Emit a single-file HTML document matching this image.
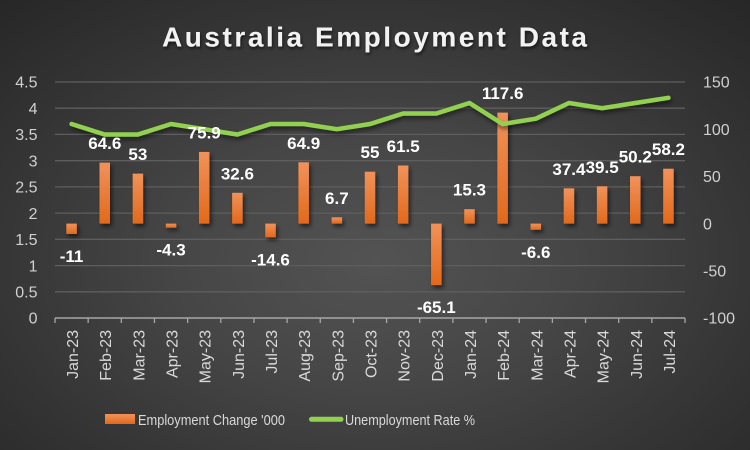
<!DOCTYPE html>
<html>
<head>
<meta charset="utf-8">
<style>
  html, body { margin: 0; padding: 0; }
  body { width: 750px; height: 450px; overflow: hidden;
    background: radial-gradient(ellipse 75% 80% at 50% 58%, #535353 0%, #464646 35%, #343434 70%, #262626 100%); }
  svg { display: block; }
  text { font-family: "Liberation Sans", Arial, sans-serif; }
</style>
</head>
<body>
<svg width="750" height="450" viewBox="0 0 750 450" xmlns="http://www.w3.org/2000/svg">
  <defs>
    <linearGradient id="og" x1="0" y1="0" x2="0" y2="1">
      <stop offset="0" stop-color="#f1925a"/>
      <stop offset="1" stop-color="#e2691b"/>
    </linearGradient>
    <filter id="sh" x="-50%" y="-20%" width="200%" height="150%">
      <feDropShadow dx="2" dy="3" stdDeviation="2" flood-color="#000" flood-opacity="0.55"/>
    </filter>
    <filter id="lsh" x="-5%" y="-20%" width="110%" height="150%">
      <feDropShadow dx="1" dy="3" stdDeviation="2" flood-color="#000" flood-opacity="0.5"/>
    </filter>
    <filter id="tsh" x="-5%" y="-30%" width="110%" height="160%">
      <feDropShadow dx="1" dy="2" stdDeviation="1.5" flood-color="#000" flood-opacity="0.6"/>
    </filter>
  </defs>

  <!-- Title -->
  <text x="374.5" y="46.5" text-anchor="middle" font-size="28" font-weight="bold" fill="#f2f2f2" textLength="425" lengthAdjust="spacing" filter="url(#tsh)">Australia Employment Data</text>

  <!-- Gridlines -->
  <g stroke="#5e5e5e" stroke-width="1.3">
    <line x1="55" y1="82" x2="685" y2="82"/>
    <line x1="55" y1="108.2" x2="685" y2="108.2"/>
    <line x1="55" y1="134.4" x2="685" y2="134.4"/>
    <line x1="55" y1="160.7" x2="685" y2="160.7"/>
    <line x1="55" y1="186.9" x2="685" y2="186.9"/>
    <line x1="55" y1="213.1" x2="685" y2="213.1"/>
    <line x1="55" y1="239.3" x2="685" y2="239.3"/>
    <line x1="55" y1="265.6" x2="685" y2="265.6"/>
    <line x1="55" y1="291.8" x2="685" y2="291.8"/>
  </g>

  <!-- Left axis labels -->
  <g font-size="16" fill="#d0d0d0" text-anchor="end">
    <text x="37.5" y="87.7">4.5</text>
    <text x="37.5" y="113.9">4</text>
    <text x="37.5" y="140.1">3.5</text>
    <text x="37.5" y="166.4">3</text>
    <text x="37.5" y="192.6">2.5</text>
    <text x="37.5" y="218.8">2</text>
    <text x="37.5" y="245">1.5</text>
    <text x="37.5" y="271.3">1</text>
    <text x="37.5" y="297.5">0.5</text>
    <text x="37.5" y="323.7">0</text>
  </g>

  <!-- Right axis labels -->
  <g font-size="16" fill="#d0d0d0" text-anchor="start">
    <text x="703" y="87.7">150</text>
    <text x="703" y="134.9">100</text>
    <text x="703" y="182.1">50</text>
    <text x="703" y="229.3">0</text>
    <text x="703" y="276.5">-50</text>
    <text x="703" y="323.7">-100</text>
  </g>

  <!-- Bars -->
  <g fill="url(#og)" filter="url(#sh)">
    <rect x="66.33" y="223.6" width="10.5" height="10.4"/>
    <rect x="99.49" y="162.6" width="10.5" height="61.0"/>
    <rect x="132.64" y="173.6" width="10.5" height="50.0"/>
    <rect x="165.8" y="223.6" width="10.5" height="4.1"/>
    <rect x="198.96" y="151.95" width="10.5" height="71.65"/>
    <rect x="232.12" y="192.8" width="10.5" height="30.8"/>
    <rect x="265.28" y="223.6" width="10.5" height="13.8"/>
    <rect x="298.43" y="162.3" width="10.5" height="61.3"/>
    <rect x="331.59" y="217.3" width="10.5" height="6.3"/>
    <rect x="364.75" y="171.7" width="10.5" height="51.9"/>
    <rect x="397.91" y="165.5" width="10.5" height="58.1"/>
    <rect x="431.07" y="223.6" width="10.5" height="61.45"/>
    <rect x="464.22" y="209.2" width="10.5" height="14.4"/>
    <rect x="497.38" y="112.6" width="10.5" height="111.0"/>
    <rect x="530.54" y="223.6" width="10.5" height="6.2"/>
    <rect x="563.7" y="188.3" width="10.5" height="35.3"/>
    <rect x="596.86" y="186.3" width="10.5" height="37.3"/>
    <rect x="630.01" y="176.2" width="10.5" height="47.4"/>
    <rect x="663.17" y="168.7" width="10.5" height="54.9"/>
  </g>

  <!-- Unemployment line -->
  <polyline filter="url(#lsh)" fill="none" stroke="#92d050" stroke-width="4.5" stroke-linejoin="round" stroke-linecap="round"
    points="71.58,124.0 104.74,134.5 137.89,134.5 171.05,124.0 204.21,129.2 237.37,134.5 270.53,124.0 303.68,124.0 336.84,129.2 370.0,124.0 403.16,113.5 436.32,113.5 469.47,103.0 502.63,124.0 535.79,118.7 568.95,103.0 602.11,108.2 635.26,103.0 668.42,97.8"/>

  <!-- Data labels -->
  <g font-size="17" font-weight="bold" fill="#ffffff" text-anchor="middle">
    <text x="71.58" y="262">-11</text>
    <text x="104.74" y="149.1">64.6</text>
    <text x="137.89" y="160.1">53</text>
    <text x="171.05" y="255.7">-4.3</text>
    <text x="204.21" y="138.45">75.9</text>
    <text x="237.37" y="179.3">32.6</text>
    <text x="270.53" y="265.4">-14.6</text>
    <text x="303.68" y="148.8">64.9</text>
    <text x="336.84" y="203.8">6.7</text>
    <text x="370.0" y="158.2">55</text>
    <text x="403.16" y="152">61.5</text>
    <text x="436.32" y="313">-65.1</text>
    <text x="469.47" y="195.7">15.3</text>
    <text x="502.63" y="99.1">117.6</text>
    <text x="535.79" y="257.8">-6.6</text>
    <text x="568.95" y="174.8">37.4</text>
    <text x="602.11" y="172.8">39.5</text>
    <text x="635.26" y="162.7">50.2</text>
    <text x="668.42" y="155.2">58.2</text>
  </g>

  <!-- X axis -->
  <line x1="55" y1="318" x2="685" y2="318" stroke="#a6a6a6" stroke-width="1.5"/>
  <g stroke="#a6a6a6" stroke-width="1.3">
    <line x1="55" y1="318" x2="55" y2="323"/>
    <line x1="88.16" y1="318" x2="88.16" y2="323"/>
    <line x1="121.32" y1="318" x2="121.32" y2="323"/>
    <line x1="154.47" y1="318" x2="154.47" y2="323"/>
    <line x1="187.63" y1="318" x2="187.63" y2="323"/>
    <line x1="220.79" y1="318" x2="220.79" y2="323"/>
    <line x1="253.95" y1="318" x2="253.95" y2="323"/>
    <line x1="287.11" y1="318" x2="287.11" y2="323"/>
    <line x1="320.26" y1="318" x2="320.26" y2="323"/>
    <line x1="353.42" y1="318" x2="353.42" y2="323"/>
    <line x1="386.58" y1="318" x2="386.58" y2="323"/>
    <line x1="419.74" y1="318" x2="419.74" y2="323"/>
    <line x1="452.89" y1="318" x2="452.89" y2="323"/>
    <line x1="486.05" y1="318" x2="486.05" y2="323"/>
    <line x1="519.21" y1="318" x2="519.21" y2="323"/>
    <line x1="552.37" y1="318" x2="552.37" y2="323"/>
    <line x1="585.53" y1="318" x2="585.53" y2="323"/>
    <line x1="618.68" y1="318" x2="618.68" y2="323"/>
    <line x1="651.84" y1="318" x2="651.84" y2="323"/>
    <line x1="685" y1="318" x2="685" y2="323"/>
  </g>

  <!-- X labels -->
  <g font-size="16" fill="#d9d9d9" text-anchor="end">
    <text transform="translate(78.1,330) rotate(-90)">Jan-23</text>
    <text transform="translate(111.2,330) rotate(-90)">Feb-23</text>
    <text transform="translate(144.4,330) rotate(-90)">Mar-23</text>
    <text transform="translate(177.5,330) rotate(-90)">Apr-23</text>
    <text transform="translate(210.7,330) rotate(-90)">May-23</text>
    <text transform="translate(243.9,330) rotate(-90)">Jun-23</text>
    <text transform="translate(277.0,330) rotate(-90)">Jul-23</text>
    <text transform="translate(310.2,330) rotate(-90)">Aug-23</text>
    <text transform="translate(343.3,330) rotate(-90)">Sep-23</text>
    <text transform="translate(376.5,330) rotate(-90)">Oct-23</text>
    <text transform="translate(409.7,330) rotate(-90)">Nov-23</text>
    <text transform="translate(442.8,330) rotate(-90)">Dec-23</text>
    <text transform="translate(476.0,330) rotate(-90)">Jan-24</text>
    <text transform="translate(509.1,330) rotate(-90)">Feb-24</text>
    <text transform="translate(542.3,330) rotate(-90)">Mar-24</text>
    <text transform="translate(575.5,330) rotate(-90)">Apr-24</text>
    <text transform="translate(608.6,330) rotate(-90)">May-24</text>
    <text transform="translate(641.8,330) rotate(-90)">Jun-24</text>
    <text transform="translate(674.9,330) rotate(-90)">Jul-24</text>
  </g>

  <!-- Legend -->
  <rect x="105" y="414" width="30" height="10" fill="url(#og)"/>
  <text x="138" y="424.8" font-size="15" fill="#d9d9d9" textLength="147" lengthAdjust="spacingAndGlyphs">Employment Change '000</text>
  <line x1="311.5" y1="419.3" x2="341" y2="419.3" stroke="#92d050" stroke-width="5" stroke-linecap="round"/>
  <text x="345" y="424.8" font-size="15" fill="#d9d9d9" textLength="130" lengthAdjust="spacingAndGlyphs">Unemployment Rate %</text>
</svg>
</body>
</html>
